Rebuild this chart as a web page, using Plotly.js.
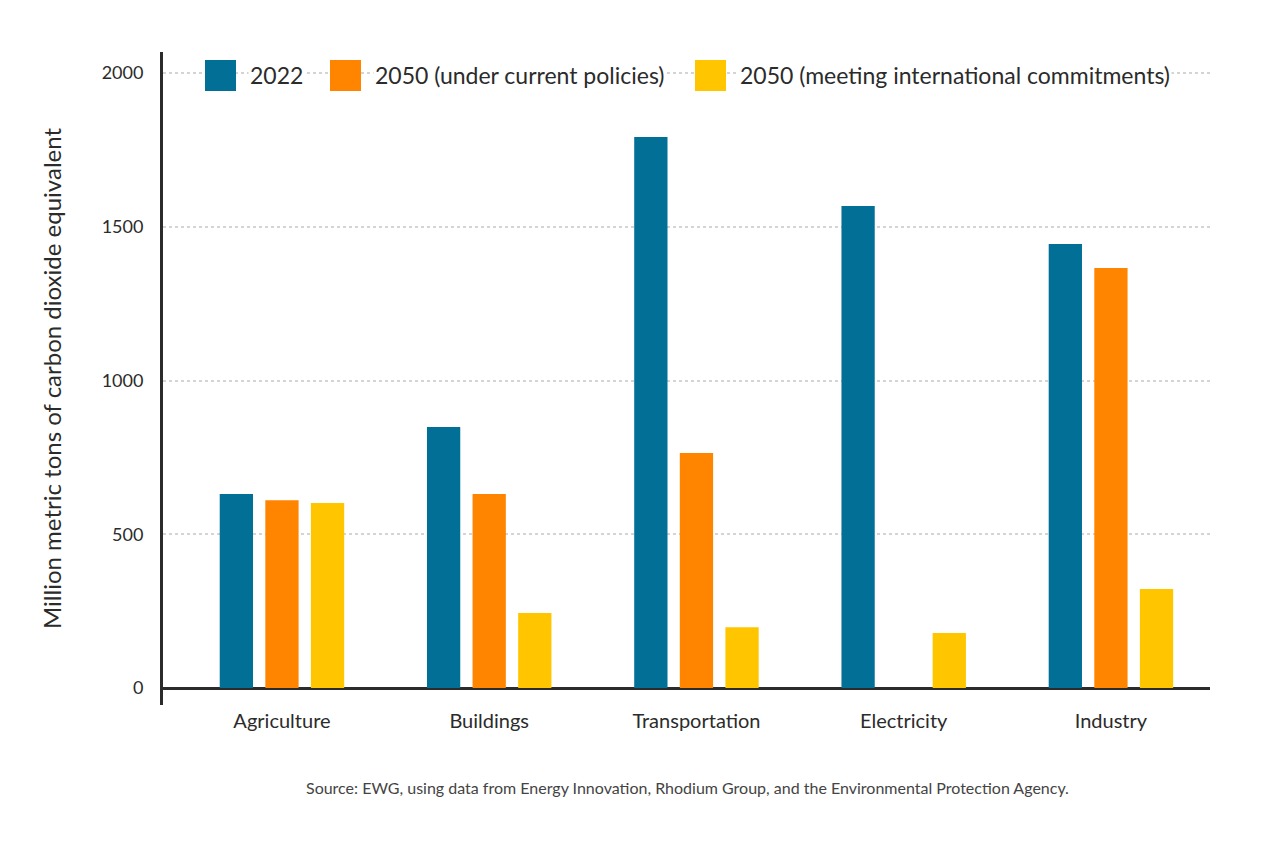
<!DOCTYPE html>
<html>
<head>
<meta charset="utf-8">
<script src="https://cdn.plot.ly/plotly-3.0.1.min.js"></script>
<style>
  html, body { margin: 0; padding: 0; background: #fff; }
  #chart { width: 1275px; height: 844px; }
</style>
</head>
<body>
<div id="chart"></div>
<script>
// sectors and emissions (million metric tons CO2e)
var sectors = ['Agriculture', 'Buildings', 'Transportation', 'Electricity', 'Industry']
var seriesNames = ['2022', '2050 (under current policies)', '2050 (meeting international commitments)']
var values2022 = [631, 849, 1792, 1567, 1444]
var valuesCurrent = [611, 631, 764, null, 1366]
var valuesCommit = [602, 244, 198, 179, 322]
var yTicks = [0, 500, 1000, 1500, 2000]
var sourceNote = 'Source: EWG, using data from Energy Innovation, Rhodium Group, and the Environmental Protection Agency.'

var colors = ['#026f97', '#ff8400', '#ffc600']
var font = 'Lato, "Noto Sans", sans-serif'

var allValues = [values2022, valuesCurrent, valuesCommit]
var data = allValues.map(function (vals, i) {
  return {
    type: 'bar',
    x: sectors,
    y: vals,
    name: seriesNames[i],
    marker: { color: colors[i] },
    hoverinfo: 'x+y+name'
  }
})

// legend drawn by hand so the swatches can be big squares
var legendX = [205, 330, 695]   // swatch left edges in px
var shapes = []
var annotations = []
seriesNames.forEach(function (name, i) {
  shapes.push({
    type: 'rect', xref: 'paper', yref: 'paper', layer: 'above',
    x0: (legendX[i] - 163) / 1047, x1: (legendX[i] + 31 - 163) / 1047,
    y0: (705 - 91) / 653, y1: (705 - 60) / 653,
    fillcolor: colors[i], line: { width: 0 }
  })
  annotations.push({
    xref: 'paper', yref: 'paper', xanchor: 'left', yanchor: 'middle',
    x: (legendX[i] + 43 - 163) / 1047, y: (705 - 75) / 653,
    text: name, showarrow: false, bgcolor: '#fff',
    font: { family: font, size: 23, color: '#2b2b2b' }
  })
})
annotations.push({
  xref: 'paper', yref: 'paper', xanchor: 'center', yanchor: 'middle',
  x: (687 - 163) / 1047, y: (705 - 787) / 653,
  text: sourceNote, showarrow: false,
  font: { family: font, size: 16, color: '#444' }
})

var layout = {
  width: 1275, height: 844,
  margin: { l: 163, r: 65, t: 52, b: 139 },
  paper_bgcolor: '#fff', plot_bgcolor: '#fff',
  showlegend: false,
  barmode: 'group',
  bargap: 0.34,
  bargroupgap: 0.27,
  font: { family: font, color: '#2b2b2b' },
  xaxis: {
    type: 'category',
    range: [-0.574, 4.478],
    showgrid: false, showline: false, zeroline: false,
    ticks: '', ticklabelstandoff: 2,
    tickfont: { family: font, size: 20, color: '#2b2b2b' }
  },
  yaxis: {
    range: [-55, 2068],
    tickvals: yTicks,
    showgrid: true, gridcolor: '#d4d4d4', gridwidth: 2, griddash: '3px,3px',
    zeroline: true, zerolinecolor: '#2b2b2b', zerolinewidth: 3,
    showline: true, linecolor: '#2b2b2b', linewidth: 3,
    ticks: '', ticklabelstandoff: 13,
    tickfont: { family: font, size: 18, color: '#2b2b2b' },
    title: {
      text: 'Million metric tons of carbon dioxide equivalent',
      standoff: 34,
      font: { family: font, size: 24, color: '#2b2b2b' }
    }
  },
  shapes: shapes,
  annotations: annotations
}

Plotly.newPlot('chart', data, layout, { displayModeBar: false })
</script>
</body>
</html>
